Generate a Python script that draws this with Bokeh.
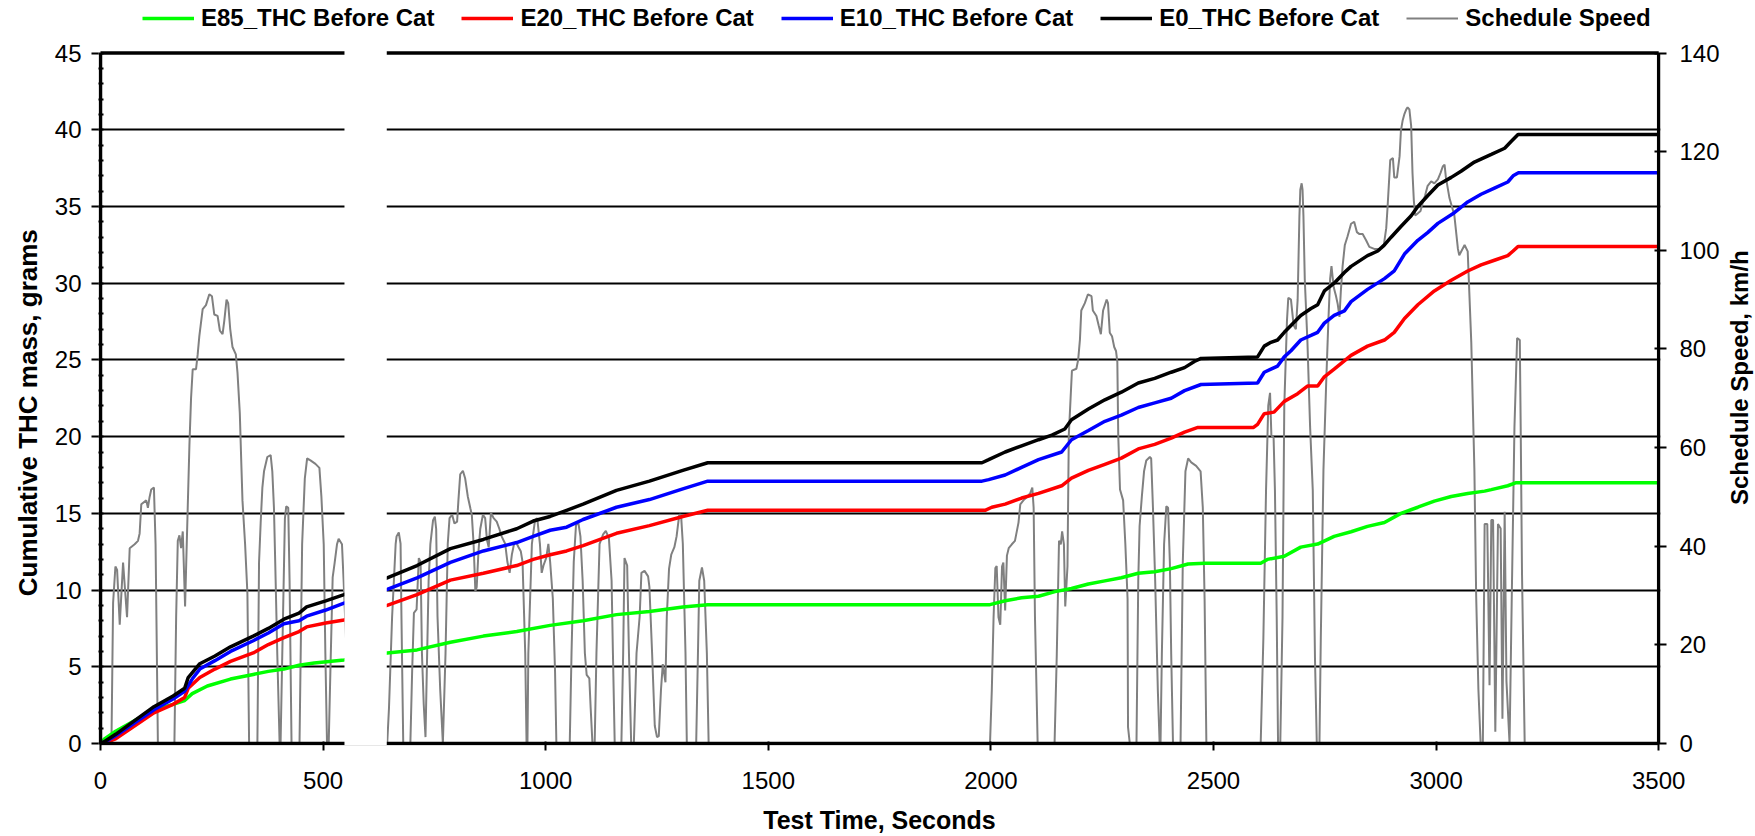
import math
from bokeh.plotting import figure
from bokeh.layouts import row, column
from bokeh.models import Range1d, LinearAxis, FixedTicker, Legend, LegendItem
from bokeh.core.properties import value
from bokeh.embed import file_html
from bokeh.resources import INLINE

# ---------------- data ----------------
series_names = ["E85_THC Before Cat", "E20_THC Before Cat", "E10_THC Before Cat",
                "E0_THC Before Cat", "Schedule Speed"]

e0_time = [0, 10, 34, 120, 163, 189, 197, 223, 257, 292, 343, 377, 412, 446, 463, 506, 547,
           644, 711, 786, 860, 935, 972, 1010, 1047, 1084, 1159, 1233, 1308, 1364, 1980,
           1995, 2032, 2069, 2107, 2137, 2166, 2181, 2219, 2256, 2293, 2331, 2368, 2405, 2435,
           2457, 2472, 2599, 2614, 2629, 2644, 2659, 2674, 2696, 2719, 2734, 2749, 2771, 2794,
           2809, 2846, 2869, 2884, 2899, 2921, 2944, 2959, 2981, 3004, 3034, 3056, 3086, 3124,
           3154, 3169, 3184, 3500]
e0_thc = [0, 0.15, 0.6, 2.4, 3.1, 3.6, 4.3, 5.2, 5.7, 6.3, 7.0, 7.5, 8.1, 8.5, 8.9, 9.3, 9.7,
          10.8, 11.6, 12.7, 13.3, 14.0, 14.5, 14.8, 15.2, 15.6, 16.5, 17.1, 17.8, 18.3, 18.3,
          18.5, 19.0, 19.4, 19.8, 20.1, 20.5, 21.1, 21.8, 22.4, 22.9, 23.5, 23.8, 24.2, 24.5,
          24.9, 25.1, 25.2, 25.9, 26.15, 26.3, 26.8, 27.25, 27.9, 28.35, 28.6, 29.5, 30.0, 30.7,
          31.1, 31.8, 32.1, 32.5, 33.0, 33.7, 34.4, 35.0, 35.7, 36.4, 36.9, 37.3, 37.9, 38.4,
          38.8, 39.25, 39.7, 39.7]

e10_time = [0, 10, 34, 120, 163, 189, 206, 223, 257, 292, 343, 377, 412, 446, 463, 506, 547,
            644, 711, 786, 860, 935, 972, 1010, 1047, 1084, 1159, 1233, 1308, 1364, 1980,
            1995, 2032, 2069, 2107, 2159, 2181, 2219, 2256, 2293, 2331, 2368, 2405, 2435, 2472,
            2599, 2614, 2629, 2644, 2659, 2674, 2696, 2719, 2734, 2749, 2771, 2794, 2809, 2846,
            2884, 2906, 2929, 2959, 2981, 3004, 3041, 3071, 3101, 3131, 3161, 3173, 3185, 3500]
e10_thc = [0, 0.1, 0.5, 2.2, 2.9, 3.4, 4.2, 4.85, 5.4, 6.0, 6.7, 7.2, 7.8, 8.0, 8.3, 8.7, 9.15,
           10.05, 10.8, 11.8, 12.55, 13.1, 13.5, 13.9, 14.1, 14.6, 15.4, 15.9, 16.6, 17.1, 17.1,
           17.2, 17.5, 18.0, 18.5, 19.0, 19.8, 20.4, 21.0, 21.4, 21.9, 22.2, 22.5, 23.0, 23.4,
           23.5, 24.2, 24.4, 24.6, 25.2, 25.6, 26.3, 26.6, 26.8, 27.4, 27.9, 28.2, 28.8, 29.6,
           30.3, 30.8, 31.9, 32.8, 33.3, 33.9, 34.6, 35.3, 35.8, 36.2, 36.6, 37.0, 37.2, 37.2]

e20_time = [0, 10, 34, 120, 163, 189, 197, 223, 257, 292, 343, 377, 412, 446, 463, 506, 547,
            644, 711, 786, 860, 935, 972, 1010, 1047, 1084, 1159, 1233, 1308, 1364, 1987,
            2002, 2032, 2069, 2107, 2159, 2181, 2219, 2256, 2293, 2331, 2368, 2405, 2435, 2465,
            2590, 2599, 2614, 2636, 2659, 2689, 2711, 2734, 2749, 2771, 2809, 2846, 2884, 2906,
            2929, 2959, 2996, 3034, 3071, 3101, 3131, 3161, 3173, 3184, 3500]
e20_thc = [0, 0.05, 0.3, 2.0, 2.55, 3.0, 3.6, 4.3, 4.85, 5.35, 5.9, 6.45, 6.9, 7.3, 7.6, 7.85, 8.05,
           9.0, 9.7, 10.65, 11.1, 11.6, 12.0, 12.3, 12.55, 12.9, 13.7, 14.2, 14.8, 15.2, 15.2,
           15.4, 15.6, 16.0, 16.3, 16.8, 17.3, 17.8, 18.2, 18.6, 19.2, 19.5, 19.9, 20.3, 20.6,
           20.6, 20.8, 21.5, 21.6, 22.3, 22.8, 23.3, 23.3, 23.9, 24.4, 25.3, 25.9, 26.3, 26.8,
           27.7, 28.6, 29.5, 30.2, 30.8, 31.2, 31.5, 31.8, 32.1, 32.4, 32.4]

e85_time = [0, 9, 34, 120, 163, 189, 206, 240, 292, 343, 377, 412, 446, 480, 547,
            644, 711, 786, 860, 935, 1010, 1084, 1159, 1233, 1308, 1364, 1998,
            2032, 2069, 2107, 2144, 2181, 2219, 2256, 2293, 2331, 2368, 2405, 2443, 2480,
            2606, 2621, 2659, 2696, 2734, 2771, 2809, 2846, 2884, 2921, 2959, 2996, 3034,
            3071, 3109, 3124, 3161, 3180, 3500]
e85_thc = [0, 0.3, 0.8, 2.2, 2.55, 2.8, 3.25, 3.75, 4.2, 4.5, 4.7, 4.85, 5.1, 5.25, 5.45,
           5.9, 6.1, 6.6, 7.0, 7.3, 7.7, 8.0, 8.4, 8.6, 8.9, 9.05, 9.05,
           9.3, 9.5, 9.6, 9.9, 10.1, 10.4, 10.6, 10.8, 11.1, 11.2, 11.4, 11.7, 11.75,
           11.75, 12.0, 12.2, 12.8, 13.0, 13.5, 13.8, 14.15, 14.4, 15.0, 15.4, 15.8, 16.1,
           16.3, 16.45, 16.55, 16.8, 17.0, 17.0]

speed_time = [
    0, 24.6, 28.3, 33.5, 37.3, 43.2, 50.7, 59.6, 65.6, 76.7, 84.2, 87.9, 91.6, 102.8, 106.5,
    110.3, 114, 120, 123.7, 128.9, 166, 169.9, 173.6, 177.3, 181, 184.8, 190, 193.7, 199.7,
    203.4, 207.1, 214.6, 218.3, 222, 229.5, 236.9, 244.4, 250.3, 255.5, 263, 268.2, 274.2,
    277.9, 283.1, 286.8, 291.3, 296.5, 304, 307.7, 312.9, 316.6, 318.9, 324.8, 330, 333.8,
    352.4, 356.1, 359.8, 363.6, 367.3, 374.7, 382.2, 385.9, 389.6, 393.4, 397.1, 402.3, 404.5,
    408.3, 414.2, 417.2, 421.7, 424.7, 429.1, 447, 452.9, 458.9, 464.1, 471.6, 482.8, 491.7,
    496.2, 501.4, 505.1, 508.8, 512.6, 516.3, 521.5, 526, 531.2, 534.9, 542.4, 546.1, 552, 560,
    644, 648, 655, 659, 663, 665, 670, 674, 676, 680, 696, 700, 704, 710, 715, 719, 722, 726,
    730, 737, 741, 747, 751, 754, 757, 763, 769, 775, 780, 784, 790, 795, 801, 804, 808, 814,
    819, 825, 831, 834, 838, 842, 845, 849, 853, 859, 864, 868, 872, 877, 883, 890, 896, 901,
    909, 914, 919, 924, 929, 933, 939, 944, 948, 954, 957, 959, 961, 969, 976, 981, 987, 991,
    995, 1001, 1006, 1010, 1016, 1021, 1024, 1054, 1058, 1063, 1068, 1073, 1078, 1083, 1088,
    1092, 1098, 1101, 1105, 1110, 1114, 1121, 1129, 1135, 1142, 1148, 1151, 1155, 1170, 1174,
    1177, 1183, 1187, 1192, 1198, 1204, 1211, 1215, 1222, 1230, 1233, 1239, 1245, 1250, 1254,
    1259, 1263, 1269, 1272, 1277, 1282, 1289, 1294, 1300, 1304, 1308, 1314, 1317, 1338, 1342,
    1345, 1351, 1356, 1362, 1366,
    1998, 2002, 2006, 2010, 2013, 2017, 2021, 2025, 2028, 2032, 2036, 2040, 2047, 2054, 2062,
    2066, 2073, 2081, 2088, 2093, 2096, 2099, 2105, 2143, 2148, 2153, 2157, 2160, 2164, 2167,
    2172, 2175, 2179, 2182, 2192, 2196, 2200, 2203, 2211, 2218, 2226, 2229, 2237, 2242, 2247,
    2252, 2260, 2263, 2267, 2272, 2277, 2281, 2284, 2286, 2290, 2297, 2302, 2307, 2308, 2312,
    2327, 2331, 2334, 2339, 2344, 2349, 2357, 2360, 2364, 2369, 2375, 2379, 2381, 2384, 2389,
    2394, 2398, 2402, 2405, 2409, 2426, 2431, 2437, 2443, 2450, 2461, 2471, 2476, 2480, 2484,
    2606, 2612, 2618, 2623, 2627, 2630, 2635, 2638, 2642, 2645, 2650, 2655, 2659, 2665, 2668,
    2674, 2680, 2685, 2689, 2693, 2695, 2698, 2700, 2702, 2705, 2711, 2717, 2723, 2728, 2732,
    2738, 2741, 2747, 2753, 2758, 2762, 2765, 2770, 2775, 2779, 2783, 2786, 2790, 2795, 2801,
    2809, 2816, 2822, 2828, 2835, 2843, 2850, 2861, 2873, 2882, 2888, 2891, 2897, 2903, 2906,
    2912, 2918, 2921, 2925, 2929, 2933, 2936, 2940, 2944, 2947, 2950, 2953, 2959, 2965, 2970,
    2975, 2981, 2989, 2996, 3004, 3010, 3015, 3019, 3022, 3030, 3041, 3049, 3052, 3064, 3071,
    3079, 3086, 3090, 3095, 3100, 3105, 3109, 3115, 3120, 3124, 3128, 3133, 3139, 3145, 3149,
    3154, 3158, 3165, 3170, 3176, 3182, 3188, 3190, 3193, 3199, 3210]
speed_kmh = [
    0, 0, 28.5, 35.9, 35.2, 24.1, 36.7, 25.6, 39.6, 40.4, 41.1, 42.6, 48.5, 49.3, 47.8,
    50.0, 51.5, 51.9, 40.4, 0, 0, 25.6, 41.1, 42.2, 39.6, 43.0, 27.8, 40.4, 60.4,
    70.0, 75.9, 75.9, 78.9, 82.6, 88.1, 88.9, 91.1, 90.7, 87.0, 86.7, 83.7, 83.0,
    85.6, 90.0, 89.3, 84.1, 80.4, 78.9, 75.2, 67.0, 55.9, 49.3, 40.4, 30.4, 0,
    0, 36.7, 44.8, 51.9, 55.2, 58.1, 58.5, 55.2, 47.8, 33.0, 18.1, 0, 0,
    18.1, 45.6, 48.1, 47.8, 33.0, 0, 0, 40.4, 53.7, 57.8, 57.4, 56.7, 55.9,
    50.0, 40.4, 18.1, 0, 0, 14.4, 33.7, 36.7, 40.4, 41.5, 40.4, 33.0, 20.0, 0,
    0, 7.2, 25.7, 33.0, 40.5, 42.0, 42.8, 40.5, 25.7, 0, 0, 14.6, 26.5, 27.2, 37.6, 36.8, 18.3, 8.0,
    1.3, 33.0, 40.5, 45.3, 46.0, 43.5, 25.7, 11.0, 0, 18.3, 40.5, 45.7, 46.4, 44.6, 45.0, 49.4, 54.6, 55.3,
    53.8, 50.1, 47.6, 46.4, 40.5, 30.9, 31.7, 39.0, 43.5, 46.4, 45.7, 41.3, 39.8, 46.8, 45.7, 45.0, 43.5, 42.0,
    40.5, 36.8, 34.6, 38.3, 40.5, 40.9, 39.8, 39.0, 36.8, 18.3, 0, 0, 18.3, 40.5, 45.3, 45.7, 40.5, 34.6,
    36.1, 37.6, 40.5, 36.8, 29.4, 14.6, 0, 0, 18.3, 36.8, 44.2, 45.0, 42.0, 33.0, 18.3,
    13.9, 13.2, 7.2, 0, 0, 18.3, 40.5, 42.4, 43.1, 41.6, 33.0, 18.3, 0, 0, 18.3,
    37.6, 36.1, 18.3, 0, 0, 18.3, 25.7, 34.6, 35.0, 33.9, 31.7, 18.3, 3.6, 1.3, 1.5,
    11.0, 16.1, 12.4, 25.7, 35.4, 38.3, 39.8, 42.0, 46.4, 46.4, 40.5, 18.3, 0, 0, 18.3,
    33.0, 35.7, 33.0, 18.3, 0,
    0, 10.7, 25.6, 35.6, 36.0, 25.6, 24.1, 35.9, 36.7, 27.0, 38.1, 39.6, 40.4, 41.1, 44.8,
    48.5, 49.3, 50.0, 50.7, 51.9, 47.8, 25.6, 0, 0, 18.1, 41.1, 40.4, 43.0, 40.4, 27.8,
    35.9, 62.6, 70.0, 75.6, 76.0, 77.8, 81.9, 87.8, 89.3, 91.1, 90.7, 87.8, 86.7, 84.8, 83.0,
    87.8, 90.0, 89.3, 83.3, 82.6, 80.4, 79.6, 77.4, 62.6, 51.5, 49.3, 40.4, 29.3, 3.3, 0,
    0, 33.0, 44.1, 50.0, 55.2, 57.4, 58.1, 57.8, 47.8, 33.0, 10.7, 0, 0, 18.1, 40.4,
    48.1, 47.8, 36.7, 18.1, 0, 0, 36.7, 55.2, 57.8, 57.0, 56.3, 55.2, 47.8, 29.3, 0,
    0, 21.3, 51.3, 68.5, 71.1, 62.5, 62.0, 51.3, 25.6, 0, 0, 25.6, 68.5, 85.7, 90.4,
    90.0, 84.8, 84.0, 90.0, 107.0, 112.3, 113.6, 112.3, 107.0, 94.2, 81.4, 64.2, 51.3, 17.0, 0,
    0, 21.3, 55.6, 72.8, 85.7, 94.2, 96.8, 92.5, 90.8, 89.1, 86.5, 91.7, 96.8, 101.1, 102.8,
    105.4, 105.8, 103.7, 103.3, 103.3, 102.0, 100.7, 100.3, 100.3, 100.7, 104.5, 108.8, 118.3, 118.7, 114.8,
    114.8, 119.1, 124.3, 126.4, 127.7, 128.6, 129.0, 128.6, 125.2, 115.7, 110.1, 107.1, 107.5, 108.0, 109.7,
    111.0, 113.1, 114.0, 113.6, 114.4, 115.7, 117.0, 117.4, 114.8, 110.6, 107.1, 100.3, 99.0, 101.1, 99.8,
    81.4, 55.6, 29.9, 11.0, 0, 0, 44.5, 44.5, 11.8, 45.3, 45.3, 2.4, 44.5, 43.6, 5.0,
    47.0, 12.7, 0, 29.9, 64.2, 82.2, 81.8, 64.2, 34.2, 0, 0]

x_ticks = [0, 500, 1000, 1500, 2000, 2500, 3000, 3500]
y_ticks = [0, 5, 10, 15, 20, 25, 30, 35, 40, 45]
y2_ticks = [0, 20, 40, 60, 80, 100, 120, 140]
hidden_span = [548, 643]   # blanked-out part of the time axis
x_title = "Test Time, Seconds"
y_title = "Cumulative THC mass, grams"
y2_title = "Schedule Speed, km/h"

# ---------------- layout geometry ----------------
FONT = "Liberation Sans"
NB = "\u00a0"
W, H = 1755, 836
RIGHT_STRIP = 30                # strip holding the right axis title
BOTTOM_STRIP = 36               # strip holding the x axis title
PW, PH = W - RIGHT_STRIP, H - BOTTOM_STRIP
BL = 98
frame_w = 1562
BR = PW - BL - frame_w
frame_h = 745
BB = PH - frame_h
px_x = 0.4452
px_y = 15.342
x0 = -2.0 / px_x
x1 = x0 + frame_w / px_x
y0 = -2.0 / px_y
y1 = y0 + frame_h / px_y
sc = y2_ticks[-1] / y_ticks[-1]

p = figure(width=PW, height=PH, output_backend="svg", toolbar_location=None,
           x_range=Range1d(x0, x1), y_range=Range1d(y0, y1),
           min_border_left=BL, min_border_right=BR, min_border_top=0, min_border_bottom=BB)
p.outline_line_color = None
p.background_fill_color = "white"
p.extra_y_ranges = {"speed": Range1d(y0 * sc, y1 * sc)}

# grid
p.xgrid.visible = False
p.ygrid[0].ticker = FixedTicker(ticks=y_ticks[1:-1])
p.ygrid.grid_line_color = "black"
p.ygrid.grid_line_width = 1.8

# x axis
xa = p.xaxis[0]
xa.ticker = FixedTicker(ticks=x_ticks)
xa.axis_line_color = None
xa.major_tick_in = 4
xa.major_tick_out = 5
xa.major_tick_line_width = 2
xa.minor_tick_line_color = None
xa.major_label_text_font = FONT
xa.major_label_text_font_size = "24px"
xa.major_label_standoff = 21

# left axis
ya = p.yaxis[0]
ya.ticker = FixedTicker(ticks=y_ticks, minor_ticks=list(range(0, 46)))
ya.axis_line_color = None
ya.major_tick_in = 0
ya.major_tick_out = 7
ya.major_tick_line_width = 2
ya.minor_tick_in = 5
ya.minor_tick_out = 0
ya.minor_tick_line_width = 2
ya.major_label_text_font = FONT
ya.major_label_text_font_size = "24px"
ya.major_label_standoff = 10
ya.axis_label = y_title + NB * 11
ya.axis_label_text_font = FONT
ya.axis_label_text_font_size = "26px"
ya.axis_label_text_font_style = "bold"
ya.axis_label_text_color = "black"
ya.axis_label_standoff = 9

# right axis
ra = LinearAxis(y_range_name="speed", ticker=FixedTicker(ticks=y2_ticks))
ra.axis_line_color = None
ra.major_tick_in = 6
ra.major_tick_out = 6
ra.major_tick_line_width = 2
ra.minor_tick_line_color = None
ra.major_label_text_font = FONT
ra.major_label_text_font_size = "24px"
ra.major_label_standoff = 13
p.add_layout(ra, "right")

for ax in (xa, ya, ra):
    ax.major_label_text_color = "black"
    ax.major_tick_line_color = "black"
ya.minor_tick_line_color = "black"

# data
r_speed = p.line(speed_time, speed_kmh, y_range_name="speed", line_color="#808080", line_width=2)
r85 = p.line(e85_time, e85_thc, line_color="#00FF00", line_width=3.5)
r20 = p.line(e20_time, e20_thc, line_color="#FF0000", line_width=3.5)
r10 = p.line(e10_time, e10_thc, line_color="#0000FF", line_width=3.5)
r0 = p.line(e0_time, e0_thc, line_color="#000000", line_width=3.5)

# plot-area border lines (drawn as lines so they can be blanked with the gap)
xl, xr = x_ticks[0], x_ticks[-1]
yb, yt = y_ticks[0], y_ticks[-1]
p.segment(x0=[xl, xl, xr, xl], y0=[yb, yb, yb, yt], x1=[xr, xl, xr, xr], y1=[yb, yt, yt, yt],
          line_color="black", line_width=3.5)

legend = Legend(items=[LegendItem(label=series_names[0], renderers=[r85]),
                       LegendItem(label=series_names[1], renderers=[r20]),
                       LegendItem(label=series_names[2], renderers=[r10]),
                       LegendItem(label=series_names[3], renderers=[r0]),
                       LegendItem(label=series_names[4], renderers=[r_speed])],
                orientation="horizontal", location=(44, frame_h - 32),
                label_text_font=FONT, label_text_font_size="24px", label_text_font_style="bold",
                label_text_color="black",
                glyph_width=52, glyph_height=24, label_height=24, label_standoff=7, spacing=27,
                padding=0, margin=0, border_line_color=None, background_fill_alpha=0,
                level="underlay")
p.add_layout(legend)

# white band hiding part of the time axis
p.quad(left=[hidden_span[0]], right=[hidden_span[1]], bottom=[y0], top=[y1],
       fill_color="white", fill_alpha=1.0, line_color=None)


def strip(width, height):
    f = figure(width=width, height=height, output_backend="svg", toolbar_location=None,
               x_range=Range1d(0, width), y_range=Range1d(height, 0),
               min_border=0, min_border_left=0, min_border_right=0,
               min_border_top=0, min_border_bottom=0)
    f.axis.visible = False
    f.grid.visible = False
    f.outline_line_color = None
    f.background_fill_color = "white"
    return f


# right strip: right axis title, read bottom-to-top
pr = strip(RIGHT_STRIP, PH)
pr.text(x=[1739 - PW], y=[405], text=[y2_title], angle=math.pi / 2,
        text_font=value(FONT), text_font_size="24px", text_font_style="bold",
        text_color="black", text_align="center", text_baseline="middle")

# bottom strip: x axis title
pb = strip(W, BOTTOM_STRIP)
pb.text(x=[879], y=[819 - PH], text=[x_title],
        text_font=value(FONT), text_font_size="25px", text_font_style="bold",
        text_color="black", text_align="center", text_baseline="middle")

layout = column(row(p, pr, spacing=0), pb, spacing=0)
open("out.html", "w").write(file_html(layout, INLINE))
